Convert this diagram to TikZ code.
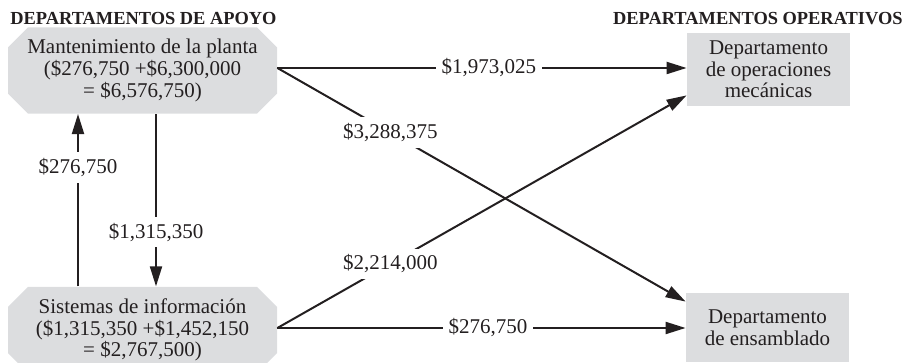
\documentclass[tikz,border=0pt]{standalone}
\usepackage{fontspec}
\setmainfont{Liberation Serif}
\usetikzlibrary{arrows.meta,shapes.misc}

\definecolor{boxgray}{RGB}{220,221,223}
\definecolor{inkgray}{RGB}{35,31,32}

\begin{document}
\begin{tikzpicture}[
    x=0.5pt, y=0.5pt,
    font=\fontsize{10.5}{10.8}\selectfont,
    header/.style={font=\fontsize{9.2}{9.2}\selectfont\bfseries,text=inkgray,inner sep=0pt},
    support/.style={chamfered rectangle,chamfered rectangle xsep=5pt,chamfered rectangle ysep=5pt,
        fill=boxgray,text=inkgray,align=center,minimum width=134.5pt,minimum height=32.5pt,inner sep=1pt},
    operating/.style={rectangle,fill=boxgray,text=inkgray,align=center,minimum width=81.5pt,inner sep=2pt},
    flow/.style={draw=inkgray,line width=1pt,-{Triangle[length=10pt,width=6pt]}},
    amount/.style={fill=white,text=inkgray,inner sep=3pt}
]
    \useasboundingbox (0,0) rectangle (905,363);

    % column headings
    \node[header,anchor=base west] (hdrsup) at (10,338) {DEPARTAMENTOS DE APOYO};
    \node[header,anchor=base east] (hdrops) at (903,338) {DEPARTAMENTOS OPERATIVOS};

    % support departments (left) and operating departments (right)
    \node[support] (mant) at (142.5,292.5) {Mantenimiento de la planta\\(\$276,750 +\$6,300,000\\= \$6,576,750)};
    \node[support,minimum height=33pt] (info) at (142.5,33) {Sistemas de información\\(\$1,315,350 +\$1,452,150\\= \$2,767,500)};
    \node[operating,minimum height=36.5pt] (ops) at (768.5,293.5) {Departamento\\de operaciones\\mecánicas};
    \node[operating,minimum height=34.5pt] (ens) at (767.5,35.5) {Departamento\\de ensamblado};

    \coordinate (mout) at ([yshift=1.25pt]mant.east);
    \coordinate (iout) at ([yshift=1pt]info.east);

    % reciprocal allocation between support departments
    \draw[flow] ([xshift=-32.25pt]info.north) -- node[amount,pos=0.69] {\$276,750} ([xshift=-32.25pt]mant.south);
    \draw[flow] ([xshift=6.75pt]mant.south) -- node[amount,pos=0.686] {\$1,315,350} ([xshift=6.75pt]info.north);

    % allocation to operating departments
    \draw[flow] (mout) -- node[amount,pos=0.517] {\$1,973,025} (mout -| ops.west);
    \draw[flow] (mout) -- node[amount,pos=0.277] {\$3,288,375} ([yshift=-4.5pt]ens.north west);
    \draw[flow] (iout) -- node[amount,pos=0.276] {\$2,214,000} ([yshift=5.5pt]ops.south west);
    \draw[flow] (iout) -- node[amount,pos=0.516] {\$276,750} (iout -| ens.west);
\end{tikzpicture}
\end{document}
